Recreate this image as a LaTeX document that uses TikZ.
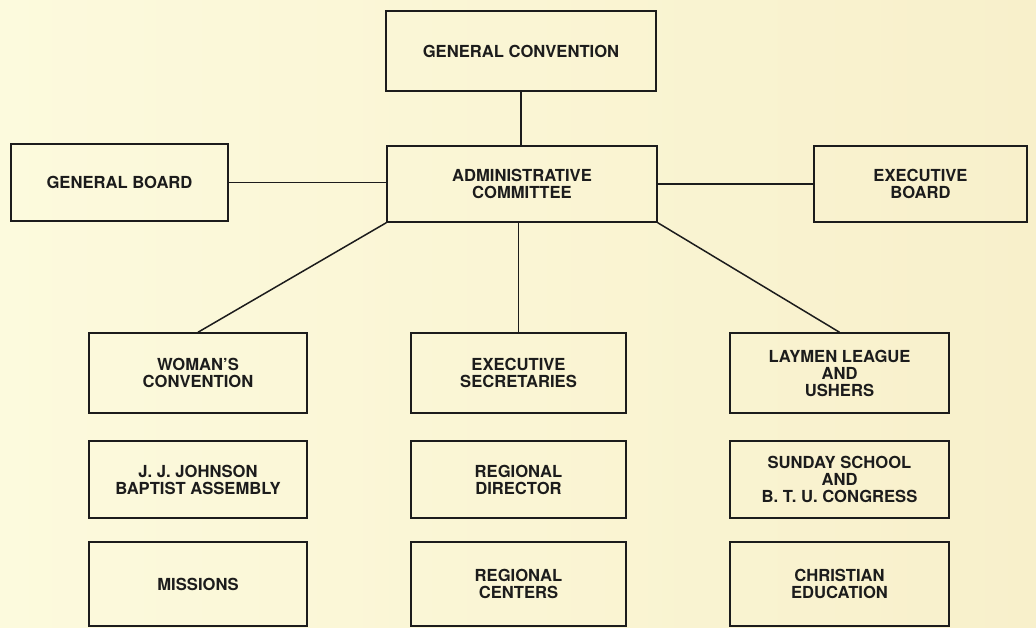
\documentclass[tikz,border=0pt]{standalone}
\usepackage{fontspec}
\setmainfont{TeX Gyre Heros}
\definecolor{paperL}{HTML}{FCFADD}
\definecolor{paperR}{HTML}{F8F0CB}
\definecolor{ink}{HTML}{1C1C1C}
\begin{document}
\begin{tikzpicture}[x=1pt,y=-1pt,
  box/.style={draw=ink, line width=1.5pt, align=center, text=ink,
    font=\fontsize{16.6}{17}\selectfont\bfseries, inner sep=0pt},
  link/.style={draw=ink, line width=1.5pt}]
\shade[left color=paperL, right color=paperR] (0,0) rectangle (1036,628);
\useasboundingbox (0,0) rectangle (1036,628);
% top level
\node[box, minimum width=270pt, minimum height=80pt] (gc) at (521,51) {GENERAL CONVENTION};
\node[box, minimum width=270pt, minimum height=76pt] (admin) at (522,184) {ADMINISTRATIVE\\COMMITTEE};
\node[box, minimum width=217pt, minimum height=77pt] (gb) at (119.5,182.5) {GENERAL BOARD};
\node[box, minimum width=213pt, minimum height=76pt] (eb) at (920.5,184) {EXECUTIVE\\BOARD};
% column 1
\node[box, minimum width=218pt, minimum height=80pt] (wc) at (198,373) {WOMAN'S\\CONVENTION};
\node[box, minimum width=218pt, minimum height=77pt] (jj) at (198,479.5) {J. J. JOHNSON\\BAPTIST ASSEMBLY};
\node[box, minimum width=218pt, minimum height=84pt] (mi) at (198,584) {MISSIONS};
% column 2
\node[box, minimum width=215pt, minimum height=80pt] (es) at (518.5,373) {EXECUTIVE\\SECRETARIES};
\node[box, minimum width=215pt, minimum height=77pt] (rd) at (518.5,479.5) {REGIONAL\\DIRECTOR};
\node[box, minimum width=215pt, minimum height=84pt] (rc) at (518.5,584) {REGIONAL\\CENTERS};
% column 3
\node[box, minimum width=219pt, minimum height=80pt] (ll) at (839.5,373) {LAYMEN LEAGUE\\AND\\USHERS};
\node[box, minimum width=219pt, minimum height=77pt] (ss) at (839.5,479.5) {SUNDAY SCHOOL\\AND\\B. T. U. CONGRESS};
\node[box, minimum width=219pt, minimum height=84pt] (ce) at (839.5,584) {CHRISTIAN\\EDUCATION};
% connectors
\draw[link] (gc.south) -- (gc.south |- admin.north);
\draw[link] (gb.east) -- (admin.west |- gb.east);
\draw[link] (admin.east) -- (eb.west);
\draw[link] (admin.south west) -- (wc.north);
\draw[link] (es.north |- admin.south) -- (es.north);
\draw[link] (admin.south east) -- (ll.north);
\end{tikzpicture}
\end{document}
